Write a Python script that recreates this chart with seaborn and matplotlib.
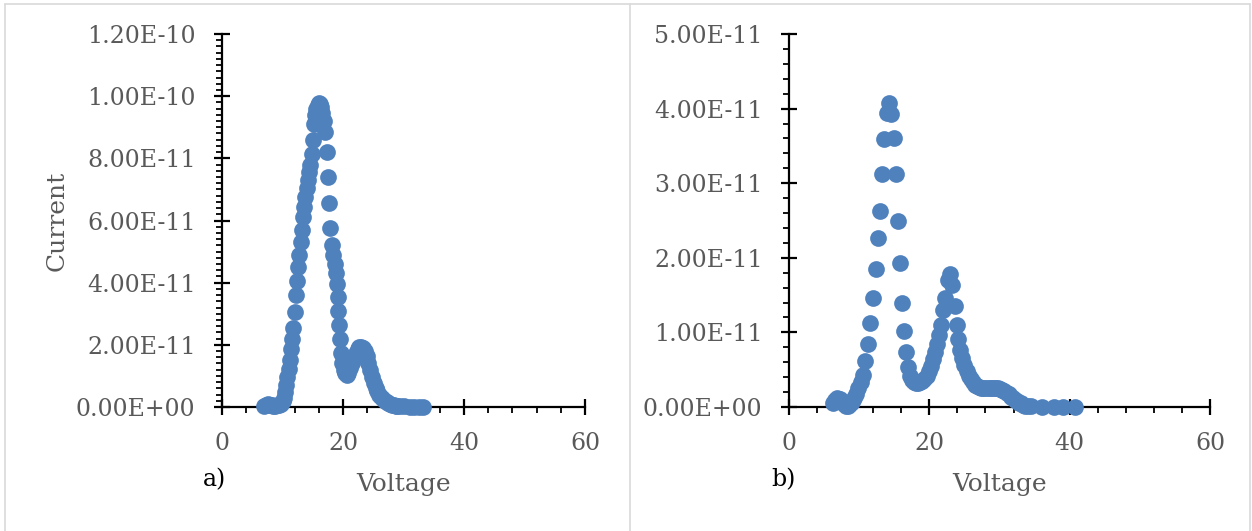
import matplotlib
matplotlib.use("Agg")
import matplotlib.pyplot as plt
import seaborn as sns
import pandas as pd
from matplotlib.ticker import FuncFormatter, MultipleLocator, FixedLocator
from matplotlib.lines import Line2D

# ---------------- data (current values in units of 1e-11 A) ----------------
voltage_a = [7.0, 7.3, 7.6, 7.9, 8.2, 8.5, 8.8, 9.1, 9.4, 9.7, 10.0, 10.2, 10.4, 10.6, 10.8,
             11.0, 11.2, 11.4, 11.6, 11.8, 12.0, 12.2, 12.4, 12.6, 12.8, 13.0, 13.2, 13.4,
             13.6, 13.8, 14.0, 14.2, 14.4, 14.6, 14.8, 15.0, 15.2, 15.4, 15.6, 15.8, 16.0,
             16.2, 16.4, 16.6, 16.8, 17.0, 17.3, 17.5, 17.7, 17.9, 18.2, 18.4, 18.6, 18.8,
             19.0, 19.1, 19.2, 19.35, 19.5, 19.7, 19.9, 20.1, 20.3, 20.6, 20.9, 21.2, 21.5,
             21.8, 22.1, 22.4, 22.7, 23.0, 23.3, 23.6, 23.9, 24.2, 24.5, 24.8, 25.1, 25.4,
             25.7, 26.0, 26.3, 26.6, 26.9, 27.2, 27.5, 27.8, 28.1, 28.4, 28.7, 29.0, 29.4,
             30.0, 31.0, 31.8, 32.5, 33.3]
current_a = [0.04, 0.08, 0.10, 0.08, 0.05, 0.04, 0.04, 0.05, 0.06, 0.10, 0.18, 0.30, 0.48,
             0.70, 0.95, 1.22, 1.52, 1.85, 2.20, 2.55, 3.05, 3.60, 4.05, 4.50, 4.90, 5.30,
             5.70, 6.10, 6.45, 6.75, 7.05, 7.30, 7.55, 7.80, 8.15, 8.60, 9.10, 9.40, 9.60,
             9.72, 9.78, 9.75, 9.65, 9.45, 9.20, 8.85, 8.20, 7.40, 6.55, 5.75, 5.20, 4.90,
             4.60, 4.30, 3.95, 3.55, 3.10, 2.65, 2.20, 1.75, 1.40, 1.20, 1.08, 1.03, 1.10,
             1.25, 1.42, 1.60, 1.75, 1.86, 1.92, 1.94, 1.90, 1.80, 1.64, 1.43, 1.20, 0.98,
             0.78, 0.62, 0.50, 0.40, 0.32, 0.25, 0.20, 0.15, 0.12, 0.09, 0.07, 0.05, 0.04,
             0.03, 0.02, 0.02, 0.01, 0.01, 0.01, 0.01]

voltage_b = [6.3, 6.6, 6.9, 7.2, 7.5, 7.8, 8.1, 8.4, 8.7, 9.0, 9.3, 9.6, 9.9, 10.2, 10.5,
             10.8, 11.2, 11.5, 12.0, 12.4, 12.7, 13.0, 13.3, 13.6, 13.9, 14.2, 14.6, 14.9,
             15.2, 15.5, 15.8, 16.1, 16.4, 16.7, 16.9, 17.2, 17.5, 17.8, 18.1, 18.4, 18.7,
             19.0, 19.3, 19.6, 19.9, 20.2, 20.5, 20.8, 21.1, 21.4, 21.7, 22.0, 22.3, 22.7,
             22.9, 23.3, 23.6, 23.9, 24.1, 24.4, 24.7, 25.0, 25.3, 25.6, 25.9, 26.2, 26.5,
             26.8, 27.1, 27.4, 27.7, 28.0, 28.3, 28.6, 28.9, 29.2, 29.5, 29.8, 30.1, 30.4,
             30.7, 31.0, 31.3, 31.6, 31.9, 32.2, 32.5, 32.8, 33.1, 33.4, 33.7, 34.0, 34.5,
             36.0, 37.7, 39.1, 40.8]
current_b = [0.06, 0.10, 0.12, 0.11, 0.08, 0.04, 0.02, 0.02, 0.04, 0.07, 0.12, 0.18, 0.25,
             0.33, 0.43, 0.61, 0.85, 1.12, 1.46, 1.85, 2.27, 2.63, 3.13, 3.59, 3.94, 4.07,
             3.93, 3.61, 3.12, 2.49, 1.93, 1.39, 1.02, 0.74, 0.54, 0.42, 0.36, 0.33, 0.32,
             0.32, 0.33, 0.35, 0.38, 0.42, 0.48, 0.55, 0.64, 0.74, 0.84, 0.96, 1.10, 1.30,
             1.46, 1.70, 1.78, 1.63, 1.36, 1.10, 0.91, 0.77, 0.66, 0.56, 0.48, 0.42, 0.37,
             0.33, 0.30, 0.28, 0.27, 0.26, 0.26, 0.26, 0.26, 0.26, 0.26, 0.26, 0.26, 0.25,
             0.24, 0.23, 0.21, 0.19, 0.17, 0.14, 0.12, 0.10, 0.08, 0.06, 0.05, 0.03, 0.02,
             0.01, 0.01, 0.00, 0.00, 0.00, 0.00]

UNIT = 1e-11
yticks_a = [0, 2e-11, 4e-11, 6e-11, 8e-11, 1e-10, 1.2e-10]
yticks_b = [0, 1e-11, 2e-11, 3e-11, 4e-11, 5e-11]
xticks = [0, 20, 40, 60]
panel_labels = ["a)", "b)"]
x_label = "Voltage"
y_label = "Current"

# ---------------- style ----------------
sns.set_style("white")
plt.rcParams["font.family"] = ["DejaVu Serif"]

W, H = 1252, 531
fig = plt.figure(figsize=(W / 100, H / 100), dpi=100)
fig.patch.set_facecolor("white")

def fx(px):
    return px / W

def fy(py):
    return 1 - py / H

ax1 = fig.add_axes([fx(222), fy(407), (585 - 222) / W, (407 - 34) / H])
ax2 = fig.add_axes([fx(789), fy(407), (1210 - 789) / W, (407 - 34) / H])

blue = "#4F81BD"
grey = "#595959"

df_a = pd.DataFrame({"Voltage": voltage_a, "Current": [c * UNIT for c in current_a]})
df_b = pd.DataFrame({"Voltage": voltage_b, "Current": [c * UNIT for c in current_b]})

for ax, df, yt in [(ax1, df_a, yticks_a), (ax2, df_b, yticks_b)]:
    sns.scatterplot(data=df, x="Voltage", y="Current", ax=ax, color=blue, s=145,
                    linewidth=0, clip_on=False, zorder=3, legend=False)
    ax.set_xlim(xticks[0], xticks[-1])
    ax.set_ylim(yt[0], yt[-1])
    ax.xaxis.set_major_locator(FixedLocator(xticks))
    ax.xaxis.set_minor_locator(MultipleLocator(4))
    ax.yaxis.set_major_locator(FixedLocator(yt))
    ax.yaxis.set_minor_locator(MultipleLocator(2e-12))
    ax.yaxis.set_major_formatter(FuncFormatter(lambda v, p: f"{v:.2E}"))
    ax.xaxis.set_major_formatter(FuncFormatter(lambda v, p: f"{v:.0f}"))
    ax.set_xlabel("")
    ax.set_ylabel("")
    for s in ["top", "right"]:
        ax.spines[s].set_visible(False)
    for s in ["left", "bottom"]:
        ax.spines[s].set_color("black")
        ax.spines[s].set_linewidth(1.6)
    ax.tick_params(which="major", direction="inout", length=12, width=1.6,
                   color="black", labelsize=17, labelcolor=grey,
                   left=True, bottom=True)
    ax.tick_params(which="minor", direction="out", length=4.5, width=1.3,
                   color="black", left=True, bottom=True)
    ax.tick_params(axis="x", which="major", pad=12)
    ax.tick_params(axis="y", which="major", pad=13)
    ax.patch.set_alpha(0)

# axis titles and panel labels
fig.text(fx(403.5), fy(485), x_label, ha="center", va="center", fontsize=18, color=grey)
fig.text(fx(999.5), fy(485), x_label, ha="center", va="center", fontsize=18, color=grey)
fig.text(fx(57), fy(220.5), y_label, ha="center", va="center", rotation=90,
         fontsize=18, color=grey)
fig.text(fx(214), fy(480), panel_labels[0], ha="center", va="center", fontsize=17, color="black")
fig.text(fx(784), fy(480), panel_labels[1], ha="center", va="center", fontsize=17, color="black")

# outer frame and divider
frame_col = "#D9D9D9"
for (x0, y0, x1, y1) in [(5, 4, 1250, 4), (5, 4, 5, 531), (630, 4, 630, 531), (1250, 4, 1250, 531)]:
    fig.add_artist(Line2D([fx(x0), fx(x1)], [fy(y0), fy(y1)], transform=fig.transFigure,
                          color=frame_col, linewidth=1.2))

fig.savefig("out.png", dpi=100)
